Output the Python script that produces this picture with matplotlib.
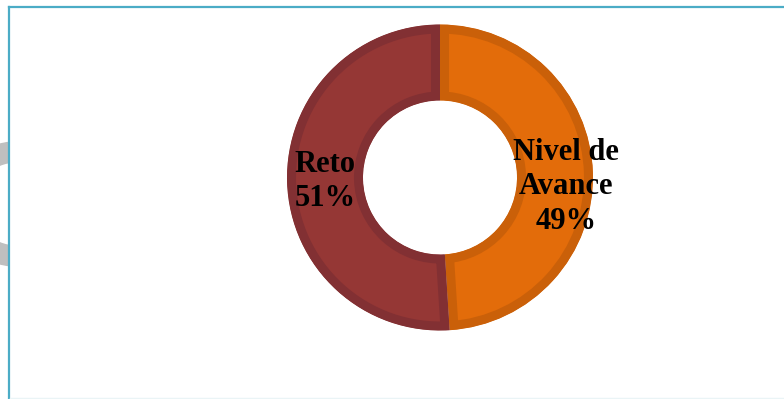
import matplotlib.pyplot as plt
from matplotlib.patches import Wedge, Rectangle

# donut data
labels = ['Nivel de\nAvance', 'Reto']
values = [49, 51]
fill_colors = ['#E36C0A', '#953735']
edge_colors = ['#CA6009', '#823033']

W, H = 784, 399
fig = plt.figure(figsize=(W / 100, H / 100), dpi=100)

# background layer in pixel units
bg = fig.add_axes([0, 0, 1, 1])
bg.set_xlim(0, W)
bg.set_ylim(H, 0)
bg.axis('off')

# piece of a grey ring peeking out on the left
bg.add_patch(Wedge((16, 204), 62, 0, 360, width=20, color='#BFBFBF', zorder=1))
# white panel with the aqua frame on left and top
bg.add_patch(Rectangle((9, 7), W, H, facecolor='white', edgecolor='none', zorder=2))
bg.plot([9, 9], [7, H], color='#4BACC6', lw=1.6, zorder=3)
bg.plot([9, W], [7, 7], color='#4BACC6', lw=1.6, zorder=3)
bg.plot([10, W], [H - 1.5, H - 1.5], color='#EAF4F6', lw=1, zorder=3)

# donut axes
cx, cy, R, r_in = 440, 177.5, 153, 77
half = 170
ax = fig.add_axes([(cx - half) / W, (H - cy - half) / H, 2 * half / W, 2 * half / H])
wedges, _ = ax.pie(values, colors=fill_colors, startangle=90, counterclock=False,
                   radius=1, wedgeprops=dict(width=(R - r_in) / R))
# darker inner rim on each slice: a thick edge clipped to the slice shape
for w, ec in zip(wedges, edge_colors):
    clip = Wedge(w.center, w.r, w.theta1, w.theta2, width=w.width,
                 transform=ax.transData)
    w.set_edgecolor(ec)
    w.set_linewidth(13)
    w.set_clip_on(True)
    w.set_clip_path(clip)
lim = half / R
ax.set_xlim(-lim, lim)
ax.set_ylim(-lim, lim)
ax.set_aspect('equal')
ax.axis('off')

font = dict(family='Liberation Serif', fontweight='bold', fontsize=22,
            ha='center', va='center', linespacing=1.25, color='black')
ax.text(0.825, -0.06, f'{labels[0]}\n{values[0]}%', **font)
ax.text(-0.75, -0.025, f'{labels[1]}\n{values[1]}%', **font)

fig.savefig('out.png', dpi=100)
